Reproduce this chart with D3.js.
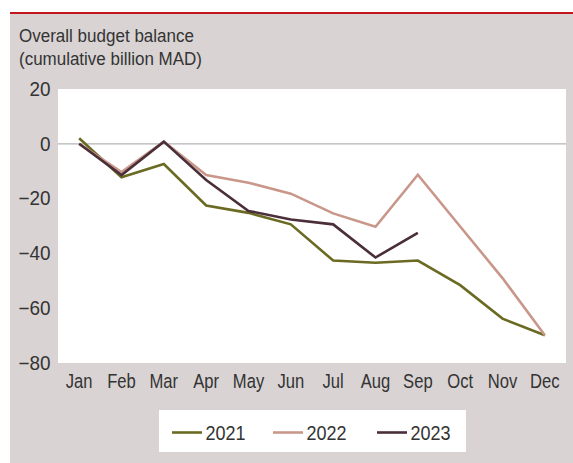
<!DOCTYPE html>
<html><head><meta charset="utf-8">
<script src="https://cdn.jsdelivr.net/npm/d3@7"></script>
<style>
html,body{margin:0;padding:0;background:#fff;}
svg{display:block;}
text{font-family:"Liberation Sans",Arial,sans-serif;fill:#333;}
</style></head>
<body>
<svg id="chart" width="573" height="463"></svg>
<script>
const months = ["Jan","Feb","Mar","Apr","May","Jun","Jul","Aug","Sep","Oct","Nov","Dec"];
const yTicks = [20, 0, -20, -40, -60, -80];
const seriesNames = ["2021","2022","2023"];
const values2021 = [2, -12.2, -7.4, -22.5, -25.2, -29.4, -42.6, -43.4, -42.6, -51.6, -63.8, -69.9];
const values2022 = [0, -10.3, 0.8, -11.4, -14.2, -18.2, -25.4, -30.3, -11.3, -30.2, -49.0, -69.9];
const values2023 = [0, -11.4, 0.8, -13.2, -24.5, -27.6, -29.4, -41.5, -32.5];
const colors = ["#6b6a22", "#c9978a", "#4a2e39"];

(function(){
const svg = d3.select("#chart");
const FONT = '"Liberation Sans",Arial,sans-serif';
function condense(sel, f){
  sel.each(function(){
    const L = this.getComputedTextLength();
    d3.select(this).attr("textLength", L*f).attr("lengthAdjust","spacingAndGlyphs");
  });
}
svg.append("rect").attr("x",10).attr("y",13).attr("width",563).attr("height",450).attr("fill","#d9d3d3");
svg.append("line").attr("x1",10).attr("x2",573).attr("y1",13).attr("y2",13).attr("stroke","#c3161f").attr("stroke-width",2);

svg.append("text").attr("x",19).attr("y",42).attr("font-size",18.7).attr("fill","#2a2a2a").text("Overall budget balance").attr("textLength",175).attr("lengthAdjust","spacingAndGlyphs");
svg.append("text").attr("x",19).attr("y",64.5).attr("font-size",18.7).attr("fill","#3a3a3a").text("(cumulative billion MAD)").attr("textLength",183).attr("lengthAdjust","spacingAndGlyphs");

const pL = 58, pR = 566, pT = 89, pB = 363;
svg.append("rect").attr("x",pL).attr("y",pT).attr("width",pR-pL).attr("height",pB-pT).attr("fill","#fff");

const x = d3.scaleBand().domain(months).range([pL,pR]);
const y = d3.scaleLinear().domain([-80,20]).range([pB,pT]);

svg.append("line").attr("x1",pL).attr("x2",pR).attr("y1",y(0)).attr("y2",y(0)).attr("stroke","#b5b5b5").attr("stroke-width",1.2);

const yAxis = d3.axisLeft(y).tickValues(yTicks).tickSize(0).tickPadding(8)
  .tickFormat(d => d < 0 ? "\u2212" + Math.abs(d) : d);
const gy = svg.append("g").attr("transform",`translate(${pL},0)`).call(yAxis);
gy.select(".domain").remove();
gy.selectAll("text").attr("font-size",19.5).style("font-family",FONT).attr("fill","#333").attr("x",-7.5);
condense(gy.selectAll("text"), 0.97);

const xAxis = d3.axisBottom(x).tickSize(0).tickPadding(10);
const gx = svg.append("g").attr("transform",`translate(0,${pB})`).call(xAxis);
gx.select(".domain").remove();
gx.selectAll("text").attr("font-size",20.5).style("font-family",FONT).attr("fill","#333");
condense(gx.selectAll("text"), 0.81);

const line = d3.line().x((d,i)=>x(months[i])+x.bandwidth()/2).y(d=>y(d));
[values2021, values2022, values2023].forEach((vals,i)=>{
  svg.append("path").datum(vals).attr("d",line).attr("fill","none")
    .attr("stroke",colors[i]).attr("stroke-width",2.6).attr("stroke-linejoin","miter");
});

svg.append("rect").attr("x",159).attr("y",410).attr("width",307).attr("height",42).attr("fill","#fff");
const legX = [172, 273, 377];
seriesNames.forEach((n,i)=>{
  svg.append("line").attr("x1",legX[i]).attr("x2",legX[i]+30).attr("y1",432.5).attr("y2",432.5)
    .attr("stroke",colors[i]).attr("stroke-width",2.6);
  const t = svg.append("text").attr("x",legX[i]+33.5).attr("y",440).attr("font-size",20).text(n);
  condense(t, 0.9);
});
})();
</script>
</body></html>
